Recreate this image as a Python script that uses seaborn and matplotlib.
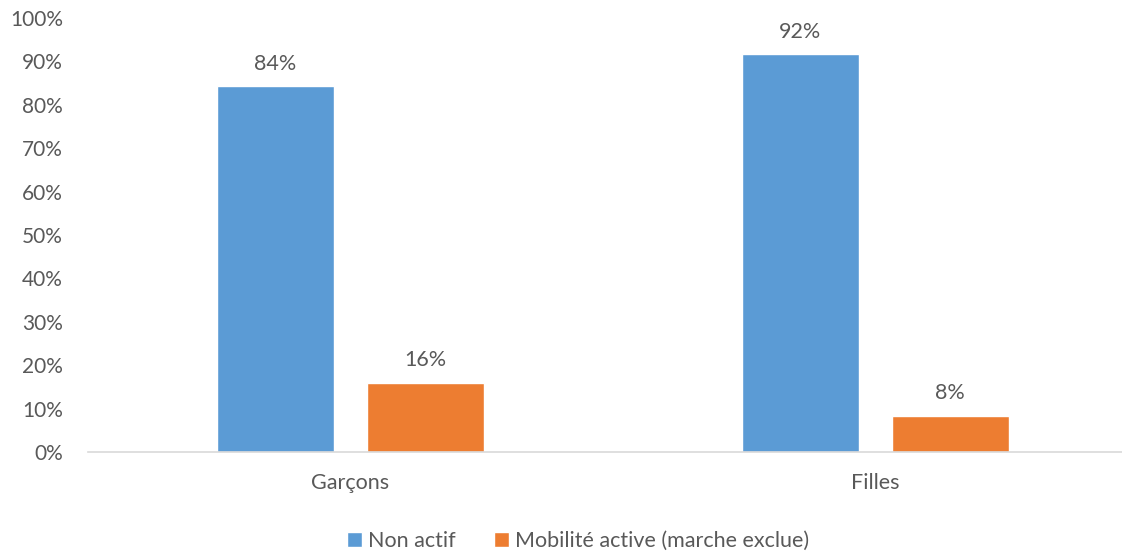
import matplotlib
matplotlib.use("Agg")
import matplotlib.pyplot as plt
import seaborn as sns
import pandas as pd
from matplotlib.ticker import PercentFormatter

categories = ["Garçons", "Filles"]
series_names = ["Non actif", "Mobilité active (marche exclue)"]
non_actif = [84.3, 91.7]
mobilite = [15.9, 8.4]
labels_non_actif = ["84%", "92%"]
labels_mobilite = ["16%", "8%"]

rows = []
for i, c in enumerate(categories):
    rows.append({"cat": c, "serie": series_names[0], "val": non_actif[i]})
    rows.append({"cat": c, "serie": series_names[1], "val": mobilite[i]})
df = pd.DataFrame(rows)

sns.set_theme(style="white")
plt.rcParams['font.family'] = ['Lato', 'DejaVu Sans']

fig = plt.figure(figsize=(11.22, 5.51), dpi=100)
ax = fig.add_axes([0.0784, 0.1797, 0.9216, 0.7876])

colors = ["#5B9BD5", "#ED7D31"]
sns.barplot(data=df, x="cat", y="val", hue="serie", palette=colors,
            width=0.572, gap=0.22, ax=ax, legend=True, saturation=1)

txt = "#595959"
for cont, labs in zip(ax.containers, [labels_non_actif, labels_mobilite]):
    ax.bar_label(cont, labels=labs, padding=9, fontsize=15.5, color=txt)

ax.set_ylim(0, 100)
ax.set_xlim(-0.5, 1.47)
ax.set_yticks(range(0, 101, 10))
ax.yaxis.set_major_formatter(PercentFormatter(decimals=0))
ax.set_xlabel("")
ax.set_ylabel("")
ax.tick_params(axis="both", length=0, colors=txt)
ax.tick_params(axis="x", pad=15, labelsize=15.5)
ax.tick_params(axis="y", pad=18, labelsize=15)
for s in ["top", "right", "left"]:
    ax.spines[s].set_visible(False)
ax.spines["bottom"].set_color("#D9D9D9")
ax.spines["bottom"].set_linewidth(1.2)

handles, labels = ax.get_legend_handles_labels()
ax.legend(handles, labels, loc="center", bbox_to_anchor=(0.474, -0.205),
          ncol=2, frameon=False, fontsize=15.5, handlelength=0.7, handleheight=0.7,
          handletextpad=0.25, columnspacing=1.8, labelcolor=txt, borderpad=0)

fig.savefig("out.png", dpi=100)
